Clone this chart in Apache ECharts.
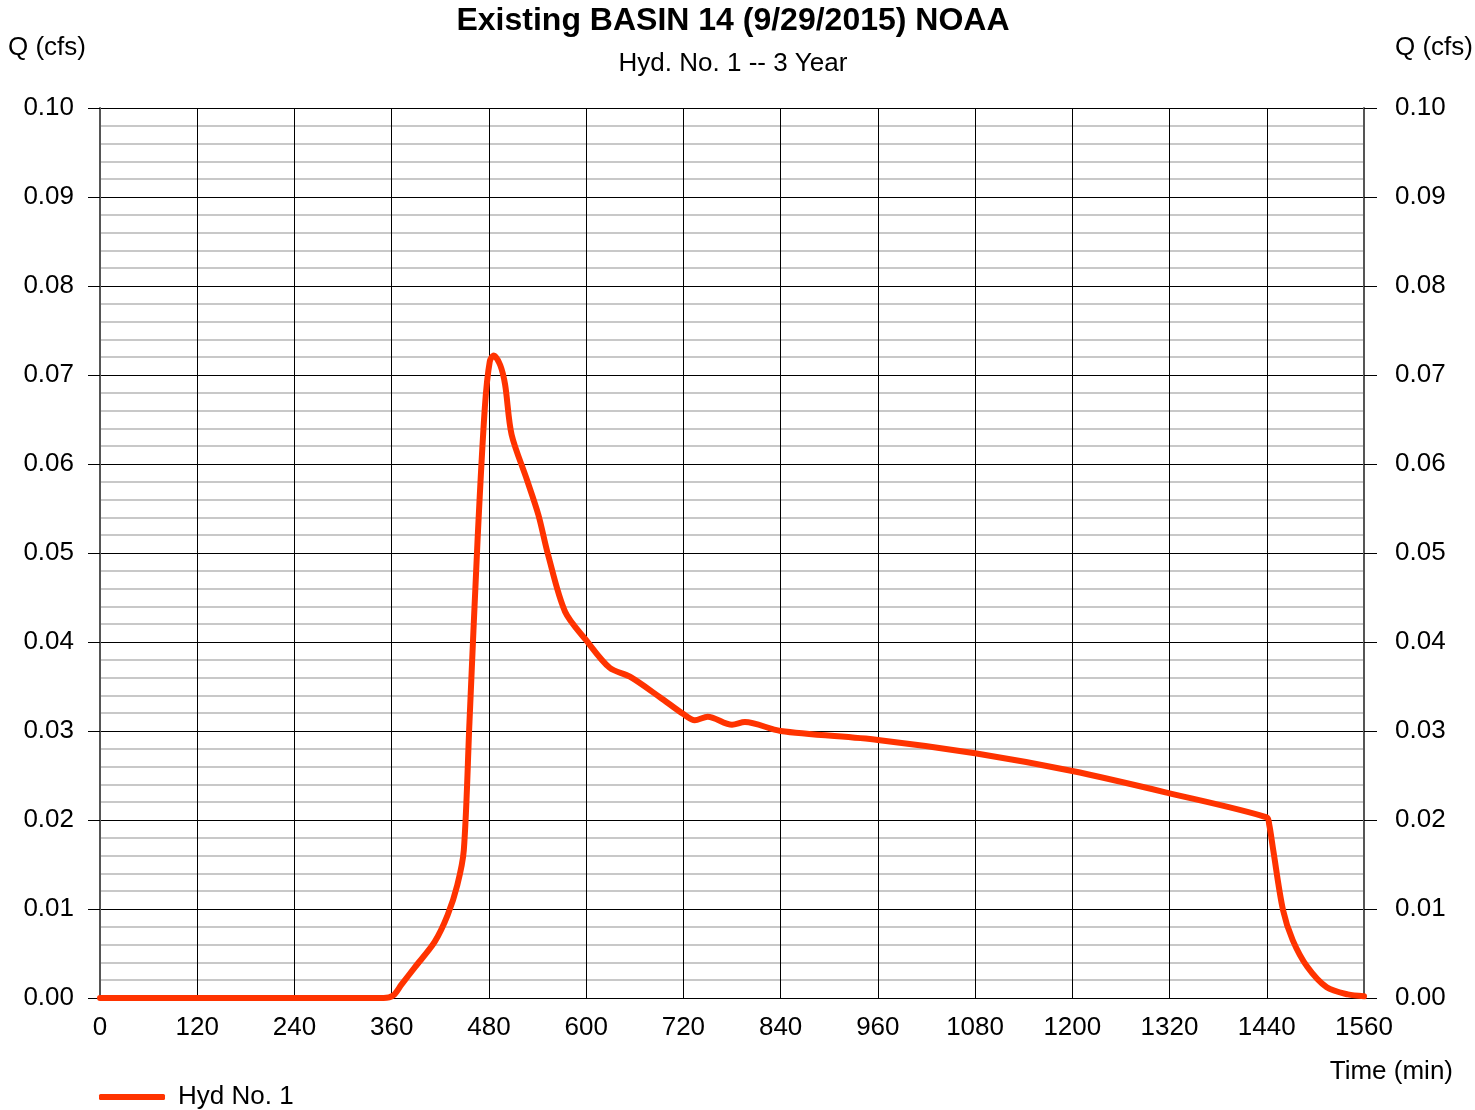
<!DOCTYPE html>
<html>
<head>
<meta charset="utf-8">
<script src="https://cdn.jsdelivr.net/npm/echarts@6/dist/echarts.min.js"></script>
<style>
	html, body { margin: 0; padding: 0; background: #fff; }
	#hydroChart { width: 1475px; height: 1110px; }
</style>
</head>
<body>
<div id="hydroChart"></div>
<script>
var timeMin = [0, 120, 240, 350, 362, 372, 389, 413, 429, 441, 449, 456, 466, 475, 481, 486, 494, 500, 508,
	527, 541, 553, 574, 600, 629, 654, 691, 720, 734, 750, 780, 796, 840, 960, 1080, 1200, 1320, 1440,
	1443, 1448, 1460, 1472, 1490, 1514, 1540, 1560];
var flowCfs = [0, 0, 0, 0, 0.0003, 0.0015, 0.0035, 0.0063, 0.0093, 0.0127, 0.0166, 0.031, 0.0515, 0.0664, 0.0715, 0.0722, 0.0711, 0.0689, 0.0633,
	0.0582, 0.0543, 0.0498, 0.0434, 0.0402, 0.0371, 0.0361, 0.0338, 0.0319, 0.0312, 0.0316, 0.0307, 0.0310, 0.0300, 0.0290, 0.0275, 0.0255, 0.0230, 0.0203,
	0.0195, 0.0166, 0.0099, 0.0065, 0.0035, 0.0012, 0.0004, 0.0002];
var xTicks = [0, 120, 240, 360, 480, 600, 720, 840, 960, 1080, 1200, 1320, 1440, 1560];
var seriesName = 'Hyd No. 1';

var chartFont = '"Liberation Sans", Arial, sans-serif';
var points = timeMin.map(function (t, i) { return [t, flowCfs[i]]; });

var myChart = echarts.init(document.getElementById('hydroChart'));
var yCommon = {
	type: 'value',
	min: 0,
	max: 0.1,
	interval: 0.01,
	axisLabel: {
		color: '#000',
		fontSize: 26,
		fontFamily: chartFont,
		formatter: function (v) { return v.toFixed(2); }
	},
	axisLine: { show: true, lineStyle: { color: '#555', width: 2 } },
	axisTick: { show: true, inside: false, length: 12, lineStyle: { color: '#000', width: 1 } }
};
var option = {
	backgroundColor: '#fff',
	animation: false,
	title: {
		text: 'Existing BASIN 14 (9/29/2015) NOAA',
		subtext: 'Hyd. No. 1 -- 3 Year',
		left: 728,
		top: 0,
		textAlign: 'center',
		itemGap: 14,
		textStyle: { fontSize: 32, fontWeight: 'bold', color: '#000', fontFamily: chartFont },
		subtextStyle: { fontSize: 26, color: '#000', fontFamily: chartFont }
	},
	grid: { left: 100, right: 111, top: 108, bottom: 112, containLabel: false },
	legend: {
		left: 94,
		top: 1079,
		icon: 'roundRect',
		itemWidth: 66,
		itemHeight: 6,
		itemGap: 10,
		textStyle: { fontSize: 26, color: '#000', fontFamily: chartFont, padding: [0, 0, 0, 8] },
		data: [seriesName]
	},
	graphic: [
		{ type: 'text', left: 8, top: 35, style: { text: 'Q (cfs)', fill: '#000', font: '26px ' + chartFont } },
		{ type: 'text', right: 2, top: 35, style: { text: 'Q (cfs)', fill: '#000', font: '26px ' + chartFont } },
		{ type: 'text', right: 22, top: 1059, style: { text: 'Time (min)', fill: '#000', font: '26px ' + chartFont } }
	],
	xAxis: {
		type: 'value',
		min: 0,
		max: 1560,
		interval: 120,
		axisLabel: {
			color: '#000',
			fontSize: 26,
			fontFamily: chartFont,
			margin: 17,
			customValues: xTicks,
			formatter: function (v) { return String(v); }
		},
		axisTick: { show: false },
		axisLine: { show: true, lineStyle: { color: '#000', width: 1 } },
		splitLine: { show: true, lineStyle: { color: '#000', width: 1 } }
	},
	yAxis: [
		Object.assign({}, yCommon, {
			position: 'left',
			axisLabel: Object.assign({}, yCommon.axisLabel, { margin: 26 }),
			minorTick: { show: false, splitNumber: 5 },
			minorSplitLine: { show: true, lineStyle: { color: '#c8c8c8', width: 2 } },
			splitLine: { show: true, lineStyle: { color: '#000', width: 1 } }
		}),
		Object.assign({}, yCommon, {
			position: 'right',
			axisLine: { show: true, lineStyle: { color: '#555', width: 2 } },
			axisLabel: Object.assign({}, yCommon.axisLabel, { margin: 31 }),
			axisTick: { show: true, length: 13, lineStyle: { color: '#000', width: 1 } },
			splitLine: { show: false }
		})
	],
	series: [
		{
			name: seriesName,
			type: 'line',
			data: points,
			smooth: 0.3,
			showSymbol: false,
			symbol: 'none',
			lineStyle: { color: '#ff3300', width: 6, cap: 'round', join: 'round' },
			itemStyle: { color: '#ff3300' },
			z: 5
		}
	]
};
myChart.setOption(option);
</script>
</body>
</html>
